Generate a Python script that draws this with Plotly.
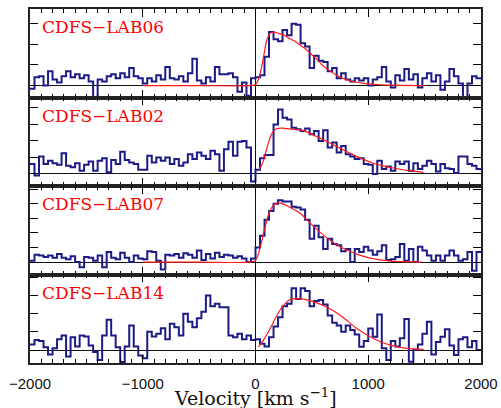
import numpy as np
import plotly.graph_objects as go
from plotly.subplots import make_subplots

# ---------------- data ----------------
bin_width = 40
bin_left = np.arange(-2000, 2000, bin_width)  # 100 velocity bins (km/s)

names = ["CDFS\u2212LAB06", "CDFS\u2212LAB02", "CDFS\u2212LAB07", "CDFS\u2212LAB14"]
x_title = "Velocity [km s<sup>\u22121</sup>]"

flux_lab06 = [
    -0.15, 0.4, 0.45, 0.0, 0.7, 0.3, 0.15, 0.45, 0.7, 0.4,
    0.55, 0.35, 0.5, 0.2, -0.7, 0.3, 0.2, 0.45, 0.55, 0.35,
    0.6, 0.4, 0.85, 0.45, 0.35, 0.1, 0.35, 0.2, 0.5, 0.3,
    0.9, 0.35, 0.3, 0.45, 0.2, 0.6, 1.3, 0.25, 0.1, 0.4,
    0.2, 0.9, 0.55, 0.55, 0.6, 0.4, -0.3, 0.15, -0.5, 0.35,
    0.4, 0.5, 1.4, 2.6, 2.25, 2.15, 2.7, 2.45, 3.0, 2.95,
    2.05, 1.9, 0.85, 1.45, 1.2, 1.15, 0.7, 0.85, 0.35, 0.6,
    0.3, 0.2, 0.35, 0.25, 0.35, 0.0, 0.3, 0.4, 0.9, 0.2,
    -0.1, 0.5, 0.25, 0.8, 0.3, 0.55, -0.1, 0.35, 0.6, 0.2,
    0.5, -0.2, 0.2, 0.8, 0.45, 0.1, -0.65, 0.1, 0.45, 0.35,
]
flux_lab02 = [
    0.6, -0.1, 1.05, 0.6, 0.8, 0.65, 0.55, 1.25, 0.5, 0.4,
    0.65, 0.2, 0.55, 0.75, 0.2, 0.8, 0.95, 0.1, 0.85, 0.6,
    1.35, 0.85, 0.7, 0.6, 0.25, 0.25, 1.1, 0.7, 1.0, 0.8,
    1.0, 0.6, 0.9, 0.5, 0.7, 1.2, 0.9, 1.3, 1.1, 0.9,
    1.4, 1.2, 0.2, 1.5, 1.95, 1.1, 1.95, 2.0, 1.6, -0.45,
    0.25, 0.95, 1.15, 1.15, 3.0, 3.9, 3.4, 3.3, 2.8, 2.7,
    2.6, 2.75, 2.4, 2.6, 2.0, 2.65, 1.6, 1.9, 1.3, 1.7,
    1.2, 1.05, 0.9, 0.95, 0.6, 0.55, 0.0, 0.8, 0.3, 0.45,
    0.2, 0.75, 0.6, 0.75, 0.2, 0.65, 0.3, 0.5, 0.8, 0.6,
    0.15, 0.6, 0.35, 0.3, 0.05, 1.05, 1.05, 0.6, 0.5, 0.3,
]
flux_lab07 = [
    0.1, 0.5, 0.45, 0.35, 0.45, 0.3, 0.55, 0.3, 0.2, 0.4,
    0.0, -0.35, 0.35, 0.3, 0.1, 0.45, -0.35, 0.7, 0.3, 0.2,
    0.65, 0.3, 0.0, 0.45, 0.25, 0.2, 0.75, 0.7, 0.1, -0.5,
    0.5, 0.45, 0.55, 0.3, 0.6, 0.5, 0.3, 0.8, 0.15, 0.55,
    0.25, 0.65, 0.35, 0.5, 0.45, 0.3, 0.4, 0.25, 0.0, 0.25,
    1.0, 1.8, 2.9, 3.5, 4.0, 4.25, 4.15, 4.15, 3.8, 3.75,
    3.6, 2.9, 1.6, 2.5, 1.7, 0.9, 1.6, 1.25, 1.15, 0.75,
    0.9, 0.0, 0.9, 0.7, 1.05, 0.8, 0.5, 0.75, 1.15, 0.15,
    0.2, 0.35, 1.25, 0.1, 0.9, 0.0, 1.05, 0.8, 0.45, 0.1,
    0.45, 0.1, 0.45, 0.8, 0.45, 0.1, 0.2, 0.7, -0.6, 0.7,
]
flux_lab14 = [
    0.3, 0.55, 0.5, 0.15, -0.25, 0.1, 0.6, 0.8, -0.35, 0.7,
    0.2, 0.8, 0.75, 0.25, -0.1, -0.55, 0.8, 1.67, 0.8, 0.15,
    -0.65, 0.2, 1.35, 0.2, -0.3, -0.45, 1.0, 0.75, 0.9, 1.2,
    0.6, 1.45, 1.25, 0.8, 2.0, 1.55, 1.25, 1.75, 2.1, 3.0,
    2.4, 2.55, 2.35, 2.35, 0.8, 0.7, 0.9, 0.6, 0.8, 0.55,
    0.6, 0.35, 0.2, 0.7, 1.3, 1.8, 2.4, 2.55, 3.4, 2.8,
    3.4, 3.25, 2.4, 2.7, 2.75, 2.5, 1.9, 1.5, 1.35, 1.0,
    1.35, 1.1, 0.85, 0.18, 0.5, 1.18, 0.73, 1.95, 0.1, -0.55,
    0.5, 0.2, 0.65, 1.7, -0.64, 0.0, 0.3, 0.9, 1.55, -0.25,
    0.45, 0.73, 1.15, 0.25, -0.27, 0.6, 0.7, 0.15, 0.5, 0.0,
]

# fitted profiles
fit_v_lab06 = [-1000, -500, -50, 0, 25, 50, 75, 100, 130, 160, 200, 250, 300, 350, 400, 450,
               500, 550, 600, 650, 700, 750, 800, 900, 1000, 1100, 1200, 1500]
fit_f_lab06 = [0, 0, 0, 0.05, 0.3, 0.8, 1.5, 2.2, 2.55, 2.6, 2.55, 2.45, 2.3, 2.15, 1.95, 1.75,
               1.5, 1.25, 0.95, 0.75, 0.57, 0.42, 0.3, 0.16, 0.08, 0.04, 0.02, 0.0]
fit_v_lab02 = [30, 60, 90, 120, 150, 180, 220, 280, 350, 400, 455, 530, 603, 680, 750, 825,
               899, 975, 1047, 1120, 1195, 1270, 1343, 1420, 1491]
fit_f_lab02 = [0.25, 0.6, 1.3, 2.0, 2.5, 2.72, 2.78, 2.75, 2.7, 2.65, 2.55, 2.3, 2.07, 1.8, 1.56, 1.3,
               1.05, 0.84, 0.65, 0.5, 0.39, 0.3, 0.22, 0.15, 0.1]
fit_v_lab07 = [-1000, -500, -60, -3, 41, 85, 130, 174, 219, 307, 396, 455, 530, 603, 680, 751,
               825, 899, 975, 1047, 1120, 1195, 1300, 1476]
fit_f_lab07 = [0, 0, 0, 0.1, 1.0, 2.4, 3.55, 4.0, 4.05, 3.75, 3.35, 2.9, 2.35, 1.85, 1.4, 1.05,
               0.78, 0.55, 0.36, 0.23, 0.14, 0.07, 0.03, 0.0]
fit_v_lab14 = [26, 71, 130, 189, 248, 307, 367, 455, 530, 603, 680, 751, 825, 899, 975, 1047,
               1120, 1195, 1270, 1343, 1491]
fit_f_lab14 = [0.18, 0.55, 1.18, 1.9, 2.45, 2.78, 2.82, 2.76, 2.62, 2.45, 2.2, 1.91, 1.55, 1.18,
               0.88, 0.64, 0.43, 0.27, 0.16, 0.09, 0.04]

y_ranges = [[-0.58, 3.72], [-0.73, 4.63], [-0.85, 5.22], [-0.71, 4.15]]
x_range = [-2000, 2000]

fluxes = [flux_lab06, flux_lab02, flux_lab07, flux_lab14]
fits = [(fit_v_lab06, fit_f_lab06), (fit_v_lab02, fit_f_lab02),
        (fit_v_lab07, fit_f_lab07), (fit_v_lab14, fit_f_lab14)]

# ---------------- figure ----------------
fig = make_subplots(rows=4, cols=1, shared_xaxes=True, vertical_spacing=0)

BLUE = "#1b1b86"
RED = "#ff1a1a"
FRAME = "#222222"

for i in range(4):
    r = i + 1
    xs = list(bin_left) + [x_range[1]]
    ys = list(fluxes[i]) + [fluxes[i][-1]]
    fig.add_trace(go.Scatter(x=xs, y=ys, mode="lines", line=dict(shape="hv", color=BLUE, width=2),
                             showlegend=False), row=r, col=1)
    fv, ff = fits[i]
    fig.add_trace(go.Scatter(x=fv, y=ff, mode="lines", line=dict(shape="spline", color=RED, width=1.2),
                             showlegend=False), row=r, col=1)
    fig.update_yaxes(row=r, col=1, range=y_ranges[i], dtick=1, ticks="inside", ticklen=8,
                     tickwidth=1, tickcolor="black", showline=True, linecolor=FRAME, linewidth=1.5,
                     mirror="ticks", showticklabels=False, showgrid=False, automargin=False,
                     zerolinecolor="#111111", zerolinewidth=1)
    fig.update_xaxes(row=r, col=1, range=x_range, dtick=1000, ticks="inside", ticklen=8,
                     tickwidth=1, tickcolor="black", showline=True, linecolor=FRAME, linewidth=1.5,
                     mirror="ticks", showgrid=False, automargin=False,
                     minor=dict(dtick=100, ticks="inside", ticklen=4, tickwidth=1, tickcolor="black"),
                     zerolinecolor="#111111", zerolinewidth=1)
    # panel label, in paper coordinates near the top-left of each panel
    fig.add_annotation(text=names[i], xref="paper", yref="paper", x=0.022, y=1 - 0.25 * i,
                       xanchor="left", yanchor="middle", yshift=-18, showarrow=False,
                       font=dict(family="DejaVu Serif", size=17, color="#ff0000"))

# x-axis title as a paper annotation below the bottom panel
fig.add_annotation(text=x_title, xref="paper", yref="paper", x=0.5, y=0, xanchor="center",
                   yanchor="middle", yshift=-34, showarrow=False,
                   font=dict(family="DejaVu Serif", size=19, color="#111111"))

fig.update_xaxes(row=4, col=1, showticklabels=True, ticklabelstandoff=6,
                 tickfont=dict(family="Liberation Sans", size=15, color="#111111"))

fig.update_layout(width=501, height=408, margin=dict(l=30, r=20, t=9, b=45),
                  plot_bgcolor="white", paper_bgcolor="white", showlegend=False)

fig.write_html("out.html")
